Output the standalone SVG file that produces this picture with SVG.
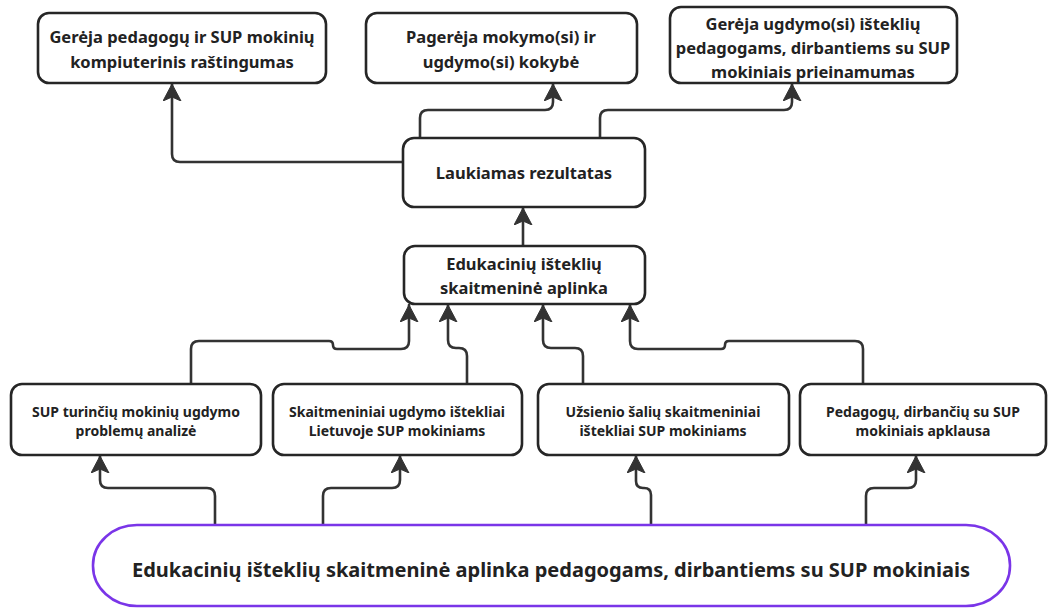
<svg xmlns="http://www.w3.org/2000/svg" width="1051" height="609" viewBox="0 0 1051 609">
<style>
.box{fill:#fff;stroke:#262626;stroke-width:2.6}
.pill{fill:#fff;stroke:#7a35e8;stroke-width:2.6}
.t{font-family:"Noto Sans","Open Sans",sans-serif;font-weight:700;fill:#222;text-anchor:middle}
.big{font-size:16.5px}
.sm{font-size:14px}
.pt{font-size:20px}
.c{fill:none;stroke:#333;stroke-width:2.6;stroke-linejoin:round;stroke-linecap:round;marker-end:url(#ah)}
</style>
<defs>
<marker id="ah" markerUnits="userSpaceOnUse" markerWidth="20" markerHeight="20" refX="17" refY="9" orient="auto" viewBox="0 0 20 20">
<path d="M0,0 L17,9 L0,18 L4,9 Z" fill="#333" stroke="#333" stroke-width="1" stroke-linejoin="round"/>
</marker>
</defs>
<rect width="1051" height="609" fill="#fff"/>
<g id="connectors">
<path class="c" d="M403,162 H180 Q172,162 172,154 V84"/>
<path class="c" d="M420,137 V118 Q420,110 428,110 H545 Q553,110 553,102 V84"/>
<path class="c" d="M600,137 V118 Q600,110 608,110 H784 Q792,110 792,102 V84"/>
<path class="c" d="M523,246 V208"/>
<path class="c" d="M191,384 V349 Q191,341 199,341 H329 Q333,341 333,345 Q333,349 337,349 H401 Q409,349 409,341 V305"/>
<path class="c" d="M467,384 V356 Q467,348 459,348 H456 Q448,348 448,340 V305"/>
<path class="c" d="M583,384 V356 Q583,348 575,348 H551 Q543,348 543,340 V305"/>
<path class="c" d="M863,384 V349 Q863,341 855,341 H729 Q725,341 725,345 Q725,349 721,349 H638 Q630,349 630,341 V305"/>
<path class="c" d="M215,525 V496 Q215,488 207,488 H108 Q100,488 100,480 V456"/>
<path class="c" d="M323,525 V496 Q323,488 331,488 H392 Q400,488 400,480 V456"/>
<path class="c" d="M651,525 V495 Q651,488 644,488 H643 Q636,488 636,481 V456"/>
<path class="c" d="M866,525 V496 Q866,488 874,488 H908 Q916,488 916,480 V456"/>
</g>
<g id="n-top1">
<rect class="box" x="38" y="13" width="288" height="70" rx="11"/>
<text class="t big" x="182" y="43">Gerėja pedagogų ir SUP mokinių</text>
<text class="t big" x="182" y="68">kompiuterinis raštingumas</text>
</g>
<g id="n-top2">
<rect class="box" x="366" y="13" width="271" height="70" rx="11"/>
<text class="t big" x="501" y="43">Pagerėja mokymo(si) ir</text>
<text class="t big" x="501" y="68">ugdymo(si) kokybė</text>
</g>
<g id="n-top3">
<rect class="box" x="670" y="7" width="287" height="76" rx="11"/>
<text class="t big" x="813" y="30">Gerėja ugdymo(si) išteklių</text>
<text class="t big" x="813" y="54">pedagogams, dirbantiems su SUP</text>
<text class="t big" x="813" y="78">mokiniais prieinamumas</text>
</g>
<g id="n-result">
<rect class="box" x="403" y="138" width="242" height="69" rx="11"/>
<text class="t big" x="524" y="179">Laukiamas rezultatas</text>
</g>
<g id="n-env">
<rect class="box" x="404" y="246" width="241" height="58" rx="11"/>
<text class="t big" x="524" y="270">Edukacinių išteklių</text>
<text class="t big" x="524" y="294">skaitmeninė aplinka</text>
</g>
<g id="n-b1">
<rect class="box" x="11" y="384" width="250" height="71" rx="11"/>
<text class="t sm" x="136" y="417">SUP turinčių mokinių ugdymo</text>
<text class="t sm" x="136" y="436">problemų analizė</text>
</g>
<g id="n-b2">
<rect class="box" x="273" y="384" width="249" height="71" rx="11"/>
<text class="t sm" x="397" y="417">Skaitmeniniai ugdymo ištekliai</text>
<text class="t sm" x="397" y="436">Lietuvoje SUP mokiniams</text>
</g>
<g id="n-b3">
<rect class="box" x="538" y="384" width="251" height="71" rx="11"/>
<text class="t sm" x="663" y="417">Užsienio šalių skaitmeniniai</text>
<text class="t sm" x="663" y="436">ištekliai SUP mokiniams</text>
</g>
<g id="n-b4">
<rect class="box" x="800" y="384" width="246" height="71" rx="11"/>
<text class="t sm" x="923" y="417">Pedagogų, dirbančių su SUP</text>
<text class="t sm" x="923" y="436">mokiniais apklausa</text>
</g>
<g id="n-base">
<rect class="pill" x="93" y="525" width="917" height="81" rx="44" ry="40"/>
<text class="t pt" x="551" y="577">Edukacinių išteklių skaitmeninė aplinka pedagogams, dirbantiems su SUP mokiniais</text>
</g>
</svg>
